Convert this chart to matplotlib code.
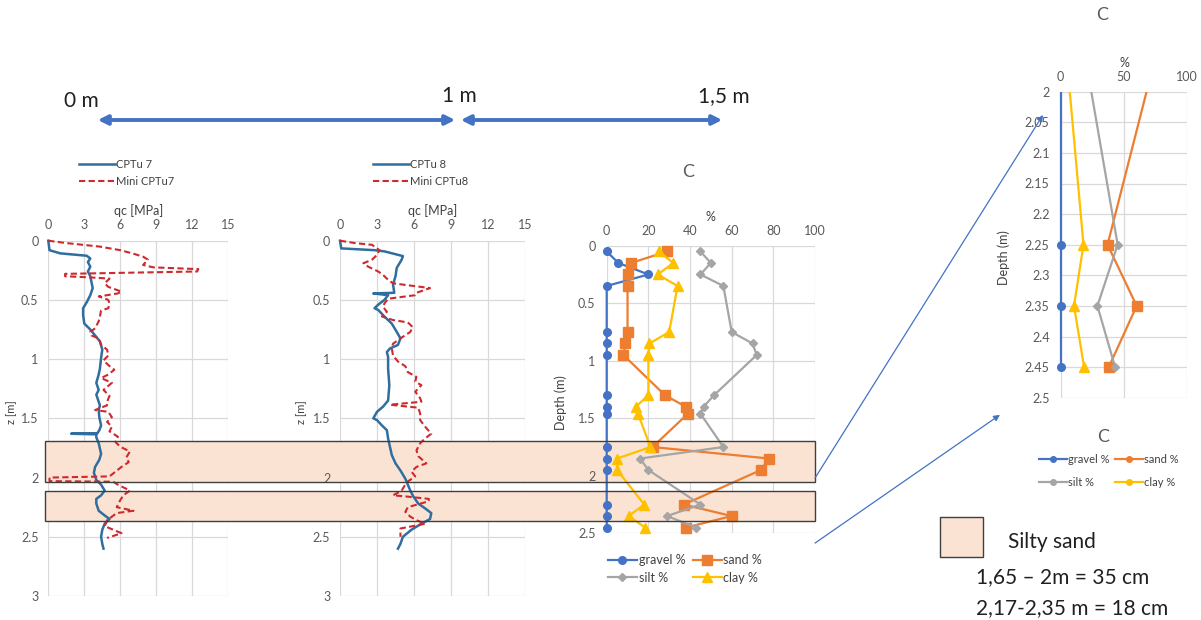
import matplotlib
matplotlib.use("Agg")
import matplotlib.pyplot as plt
from matplotlib.lines import Line2D
from matplotlib.patches import Rectangle, ConnectionPatch, FancyArrowPatch

plt.rcParams['font.family'] = ['Lato', 'DejaVu Sans']

# ---------------- CPTu profiles: cone resistance qc [MPa] vs depth z [m] ----------------
cptu7_z = [0, 0.08, 0.107, 0.127, 0.15, 0.18, 0.22, 0.26, 0.30, 0.35, 0.40, 0.46, 0.52,
           0.57, 0.63, 0.70, 0.73, 0.75, 0.80, 0.85, 0.92, 0.99, 1.08, 1.13, 1.20, 1.26,
           1.30, 1.36, 1.39, 1.43, 1.49, 1.56, 1.60, 1.625, 1.63, 1.635, 1.66, 1.71, 1.80,
           1.85, 1.91, 1.96, 2.02, 2.06, 2.11, 2.15, 2.18, 2.22, 2.28, 2.32, 2.35, 2.39,
           2.44, 2.50, 2.56, 2.60]
cptu7_qc = [0, 0.1, 1.0, 3.2, 3.5, 3.3, 3.5, 3.3, 3.5, 3.6, 3.7, 3.5, 3.2,
            2.9, 2.9, 3.0, 3.3, 3.5, 3.9, 4.3, 4.5, 4.4, 4.3, 4.2, 4.0, 4.2,
            4.0, 4.2, 4.3, 4.2, 4.25, 4.4, 4.25, 4.1, 1.9, 4.0, 4.0, 4.2, 4.4,
            4.25, 3.9, 3.8, 4.0, 4.4, 4.7, 4.4, 4.0, 4.0, 4.2, 4.7, 5.1, 4.7,
            4.5, 4.4, 4.5, 4.6]

mini7_z = [0, 0.02, 0.05, 0.08, 0.11, 0.135, 0.16, 0.205, 0.225, 0.24, 0.26, 0.28, 0.30,
           0.31, 0.32, 0.36, 0.39, 0.43, 0.445, 0.46, 0.47, 0.50, 0.53, 0.57, 0.59, 0.64,
           0.68, 0.74, 0.77, 0.80, 0.825, 0.88, 0.92, 0.97, 1.01, 1.05, 1.09, 1.13, 1.16,
           1.20, 1.26, 1.31, 1.36, 1.39, 1.43, 1.445, 1.49, 1.53, 1.57, 1.61, 1.655, 1.70,
           1.74, 1.78, 1.83, 1.87, 1.91, 1.95, 1.99, 2.00, 2.03, 2.035, 2.06, 2.11, 2.15,
           2.19, 2.25, 2.28, 2.30, 2.36, 2.41, 2.47, 2.51]
mini7_qc = [0, 1.5, 4.3, 6.0, 7.1, 7.9, 8.3, 7.9, 8.75, 12.5, 12.4, 1.4, 1.4,
            3.5, 5.1, 4.7, 5.0, 6.1, 5.8, 4.9, 4.2, 5.0, 5.1, 5.0, 4.4, 4.3,
            4.2, 3.9, 3.5, 3.6, 4.2, 4.4, 4.9, 5.0, 4.6, 5.0, 5.5, 5.0, 4.4,
            5.3, 4.6, 5.1, 4.9, 4.9, 3.9, 5.0, 5.3, 4.9, 5.3, 5.1, 5.8, 5.6,
            6.0, 6.8, 6.5, 6.7, 6.1, 5.6, 5.1, 0.1, 0.1, 5.4, 5.8, 6.8, 6.25,
            6.0, 5.7, 7.1, 5.7, 4.9, 4.7, 6.1, 4.9]

cptu8_z = [0, 0.065, 0.08, 0.09, 0.13, 0.16, 0.23, 0.30, 0.37, 0.44, 0.445, 0.46, 0.50,
           0.54, 0.57, 0.585, 0.64, 0.70, 0.77, 0.825, 0.88, 0.91, 0.94, 0.98, 1.08, 1.22,
           1.35, 1.40, 1.445, 1.50, 1.515, 1.56, 1.60, 1.67, 1.74, 1.81, 1.88, 1.94, 2.01,
           2.06, 2.11, 2.16, 2.22, 2.26, 2.30, 2.35, 2.39, 2.44, 2.50, 2.56, 2.60]
cptu8_qc = [0, 0.1, 2.8, 3.6, 5.1, 5.0, 4.6, 4.5, 4.3, 4.4, 2.7, 3.9, 3.6,
            3.1, 2.8, 3.1, 3.6, 4.2, 4.6, 4.9, 4.7, 4.05, 3.8, 3.9, 3.9, 4.0,
            3.9, 3.5, 3.0, 2.7, 3.0, 3.4, 3.8, 3.9, 4.05, 4.2, 4.5, 4.9, 5.3,
            5.5, 5.7, 5.95, 6.35, 6.9, 7.4, 7.3, 6.6, 5.8, 5.1, 4.9, 4.7]

mini8_z = [0, 0.02, 0.035, 0.08, 0.12, 0.16, 0.19, 0.22, 0.26, 0.29, 0.33, 0.36, 0.40,
           0.44, 0.46, 0.49, 0.53, 0.56, 0.60, 0.64, 0.67, 0.69, 0.73, 0.77, 0.825, 0.87,
           0.91, 0.97, 1.02, 1.06, 1.11, 1.15, 1.19, 1.22, 1.275, 1.33, 1.36, 1.385, 1.41,
           1.46, 1.515, 1.57, 1.63, 1.67, 1.71, 1.77, 1.82, 1.88, 1.91, 1.95, 1.99, 2.04,
           2.11, 2.15, 2.16, 2.18, 2.20, 2.25, 2.29, 2.33, 2.36, 2.39, 2.43, 2.47, 2.50]
mini8_qc = [0, 1.2, 2.6, 3.2, 3.0, 2.6, 1.9, 2.3, 3.1, 3.5, 3.9, 4.3, 7.3,
            6.2, 6.1, 3.9, 3.6, 3.5, 3.8, 3.4, 4.3, 5.5, 5.9, 5.7, 4.9, 4.3,
            4.2, 4.3, 4.7, 5.3, 5.5, 6.2, 6.1, 6.6, 6.1, 6.5, 6.6, 4.05, 6.35,
            6.5, 6.5, 6.9, 7.4, 6.9, 6.5, 6.2, 6.35, 7.0, 6.2, 5.8, 6.1, 5.4,
            5.0, 4.3, 5.4, 7.2, 7.2, 5.5, 5.3, 5.7, 6.2, 6.9, 4.9, 4.9, 4.9]

qc_ticks = [0, 3, 6, 9, 12, 15]
z_ticks = [0, 0.5, 1, 1.5, 2, 2.5, 3]

# ---------------- Grain size distribution, profile C ----------------
gs_depth = [0.05, 0.15, 0.25, 0.35, 0.75, 0.85, 0.95, 1.30, 1.40, 1.46,
            1.75, 1.85, 1.95, 2.25, 2.35, 2.45]
gravel = [0, 5.6, 20, 0, 0, 0, 0, 0, 0, 0, 0, 0, 0, 0, 0, 0]
sand = [29, 11.7, 10, 10, 10, 9, 8, 28, 38, 39, 22, 78, 74, 37, 60, 38]
silt = [45, 50, 45, 56, 60, 70, 72, 51.5, 46.5, 45, 56, 16, 20, 45, 29, 43]
clay = [25, 32, 24.5, 34, 30, 20.5, 20, 20, 14, 15, 21, 5, 5, 18, 10.5, 18.5]

pct_ticks = [0, 20, 40, 60, 80, 100]
gs_depth_ticks = [0, 0.5, 1, 1.5, 2, 2.5]
zoom_pct_ticks = [0, 50, 100]
zoom_depth_ticks = [2, 2.05, 2.1, 2.15, 2.2, 2.25, 2.3, 2.35, 2.4, 2.45, 2.5]

# Silty sand layers, depth range on the CPTu depth axis [m]
silty_sand_layers = [(1.69, 2.04), (2.11, 2.37)]

# ---------------- style ----------------
W, H = 1201, 620
GRID = '#D9D9D9'
TICK = '#595959'
LEG = '#404040'
C_CPT = '#2F6E9E'
C_MINI = '#CC2A2E'
C_GRAVEL = '#4472C4'
C_SAND = '#ED7D31'
C_SILT = '#A5A5A5'
C_CLAY = '#FFC000'
BAND_FILL = '#FBE3D4'
BAND_EDGE = '#3F3F3F'
ARROW = '#4472C4'

fig = plt.figure(figsize=(W / 100, H / 100), dpi=100)


def rect_px(x0, y0, x1, y1):
    return [x0 / W, 1 - y1 / H, (x1 - x0) / W, (y1 - y0) / H]


def fxy(x, y):
    return (x / W, 1 - y / H)


def base_axes(rect, xlim, ylim, xticks, yticks, pad_x=7, pad_y=7, fs=9):
    ax = fig.add_axes(rect)
    ax.set_xlim(*xlim)
    ax.set_ylim(*ylim)
    ax.set_xticks(xticks)
    ax.set_yticks(yticks)
    ax.set_xticklabels([f"{v:g}" for v in xticks])
    ax.set_yticklabels([f"{v:g}" for v in yticks])
    ax.xaxis.tick_top()
    ax.xaxis.set_label_position('top')
    ax.tick_params(axis='x', length=0, labelsize=fs, colors=TICK, pad=pad_x)
    ax.tick_params(axis='y', length=0, labelsize=fs, colors=TICK, pad=pad_y)
    for s in ax.spines.values():
        s.set_visible(False)
    ax.patch.set_visible(False)
    for v in xticks:
        ax.axvline(v, color=GRID, lw=0.9, zorder=0.5)
    for v in yticks:
        ax.axhline(v, color=GRID, lw=0.9, zorder=0.5)
    ax.xaxis.set_zorder(2.5)
    ax.yaxis.set_zorder(2.5)
    return ax


# ---------------- CPTu panels ----------------
axL = base_axes(rect_px(48.3, 240.7, 228.3, 596), (0, 15), (3, 0), qc_ticks, z_ticks)
axM = base_axes(rect_px(340, 240.7, 525, 596), (0, 15), (3, 0), qc_ticks, z_ticks)

for ax, (zc, qc), (zm, qm), labs in [
        (axL, (cptu7_z, cptu7_qc), (mini7_z, mini7_qc), ('CPTu 7', 'Mini CPTu7')),
        (axM, (cptu8_z, cptu8_qc), (mini8_z, mini8_qc), ('CPTu 8', 'Mini CPTu8'))]:
    l1, = ax.plot(qc, zc, color=C_CPT, lw=1.8, zorder=3, clip_on=False)
    l2, = ax.plot(qm, zm, color=C_MINI, lw=1.5, ls=(0, (3, 1.6)), zorder=3, clip_on=False)
    ax.set_xlabel('qc [MPa]', fontsize=9, color=LEG, labelpad=3)
    ax.set_ylabel('z [m]', fontsize=8, color=LEG)
    x0 = 79 if ax is axL else 373
    ax.legend([l1, l2], labs, loc='upper left', bbox_to_anchor=fxy(x0, 159),
              bbox_transform=fig.transFigure, frameon=False, fontsize=8,
              handlelength=3.2, handletextpad=0.15, labelspacing=0.55,
              borderpad=0, borderaxespad=0, labelcolor=LEG)

axL.yaxis.set_label_coords((17 - 48.3) / 180, 0.518)
axM.yaxis.set_label_coords((306.7 - 340) / 185, 0.518)

# ---------------- Grain size panel C ----------------
axC = base_axes(rect_px(606.7, 245.7, 815, 533.3), (0, 100), (2.5, 0),
                pct_ticks, gs_depth_ticks, pad_x=6, pad_y=8)
series = [(gravel, C_GRAVEL, 'o', 5.5, 'gravel %'),
          (sand, C_SAND, 's', 6.5, 'sand %'),
          (silt, C_SILT, 'D', 4.5, 'silt %'),
          (clay, C_CLAY, '^', 6.5, 'clay %')]
for vals, col, mk, ms, lab in series:
    axC.plot(vals, gs_depth, color=col, lw=1.6, marker=mk, ms=ms, zorder=3, clip_on=False)
axC.set_xlabel('%', fontsize=9, color=LEG, labelpad=3)
axC.set_ylabel('Depth (m)', fontsize=9, color=LEG)
axC.yaxis.set_label_coords((566.7 - 606.7) / 208.3, 0.453)
fig.text(*fxy(688, 172), 'C', fontsize=13, color=TICK, ha='center', va='center')

handles = [Line2D([], [], color=c, marker=m, ms=ms, lw=1.6) for _, c, m, ms, _ in series]
labels = [s[4] for s in series]
axC.legend([handles[0], handles[2], handles[1], handles[3]],
           [labels[0], labels[2], labels[1], labels[3]], ncol=2,
           loc='upper left', bbox_to_anchor=fxy(608, 554), bbox_transform=fig.transFigure,
           frameon=False, fontsize=9, handlelength=2.3, handletextpad=0.15,
           columnspacing=0.6, labelspacing=0.45, borderpad=0, borderaxespad=0,
           labelcolor=LEG)

# ---------------- Zoomed grain size panel (2 - 2.5 m) ----------------
axI = base_axes(rect_px(1060.7, 91.7, 1187.3, 397.7), (0, 100), (2.5, 2),
                zoom_pct_ticks, zoom_depth_ticks, pad_x=6, pad_y=8)
# clip only in depth, so the markers sitting on 0 % stay whole
inset_clip = Rectangle((-0.08, 0), 1.16, 1, transform=axI.transAxes, visible=False)
axI.add_patch(inset_clip)
for vals, col, mk, ms, lab in series:
    ln, = axI.plot(vals, gs_depth, color=col, lw=1.6, marker=mk, ms=ms, zorder=3)
    ln.set_clip_path(inset_clip)
axI.set_xlabel('%', fontsize=9, color=LEG, labelpad=3)
axI.set_ylabel('Depth (m)', fontsize=9, color=LEG)
axI.yaxis.set_label_coords((1010 - 1060.7) / 126.6, 0.4565)
fig.text(*fxy(1101.7, 15), 'C', fontsize=13, color=TICK, ha='center', va='center')
fig.text(*fxy(1103, 437), 'C', fontsize=13, color=TICK, ha='center', va='center')
ihandles = [Line2D([], [], color=c, marker='o', ms=4, lw=1.6) for _, c, _, _, _ in series]
axI.legend([ihandles[0], ihandles[2], ihandles[1], ihandles[3]],
           [labels[0], labels[2], labels[1], labels[3]], ncol=2,
           loc='upper left', bbox_to_anchor=fxy(1039, 454), bbox_transform=fig.transFigure,
           frameon=False, fontsize=8, handlelength=2.5, handletextpad=0.1,
           columnspacing=0.5, labelspacing=1.05, borderpad=0, borderaxespad=0,
           labelcolor=LEG)

# ---------------- Silty sand layers across all profiles ----------------
to_fig = fig.transFigure.inverted()
band_x = [(45 / W, axM.get_position().x0, axL),
          (axM.get_position().x0, axC.get_position().x0, axM),
          (axC.get_position().x0, axC.get_position().x1, axC)]
for top, bot in silty_sand_layers:
    y_top = to_fig.transform(axL.transData.transform((0, top)))[1]
    y_bot = to_fig.transform(axL.transData.transform((0, bot)))[1]
    for x0, x1, ax in band_x:
        ax.add_patch(Rectangle((x0, y_bot), x1 - x0, y_top - y_bot,
                               transform=fig.transFigure, facecolor=BAND_FILL,
                               edgecolor='none', zorder=1, clip_on=False))
    fig.add_artist(Rectangle((45 / W, y_bot), axC.get_position().x1 - 45 / W,
                             y_top - y_bot, transform=fig.transFigure, fill=False,
                             edgecolor=BAND_EDGE, lw=1.0))

# ---------------- Links from panel C to the zoomed panel ----------------
for (xa, ya), (xb, yb) in [((100, 2.02), (-14, 2.038)), ((100, 2.585), (-48, 2.528))]:
    con = ConnectionPatch(xyA=(xa, ya), coordsA=axC.transData,
                          xyB=(xb, yb), coordsB=axI.transData,
                          arrowstyle='-|>', color=ARROW, lw=0.9, mutation_scale=9)
    fig.add_artist(con)

# ---------------- Horizontal distance scale ----------------
for xa, xb in [(95, 458), (458, 725)]:
    fig.add_artist(FancyArrowPatch(
        fxy(xa, 120), fxy(xb, 120), transform=fig.transFigure,
        arrowstyle='<|-|>', mutation_scale=14, color=ARROW, lw=2.8))
for x, y, s in [(81, 101, '0 m'), (459, 96, '1 m'), (724, 96, '1,5 m')]:
    fig.text(*fxy(x, y), s, fontsize=15, color='#202020', ha='center', va='center')

# ---------------- Key ----------------
fig.add_artist(Rectangle(fxy(940, 556.7), 42.7 / W, 40 / H, transform=fig.transFigure,
                         facecolor=BAND_FILL, edgecolor=BAND_EDGE, lw=1.0))
fig.text(*fxy(1008, 542), 'Silty sand', fontsize=15, color='#202020', ha='left', va='center')
fig.text(*fxy(976, 577), '1,65 \u2013 2m = 35 cm', fontsize=15, color='#202020',
         ha='left', va='center')
fig.text(*fxy(976, 608), '2,17-2,35 m = 18 cm', fontsize=15, color='#202020',
         ha='left', va='center')

fig.savefig('out.png', dpi=100)
